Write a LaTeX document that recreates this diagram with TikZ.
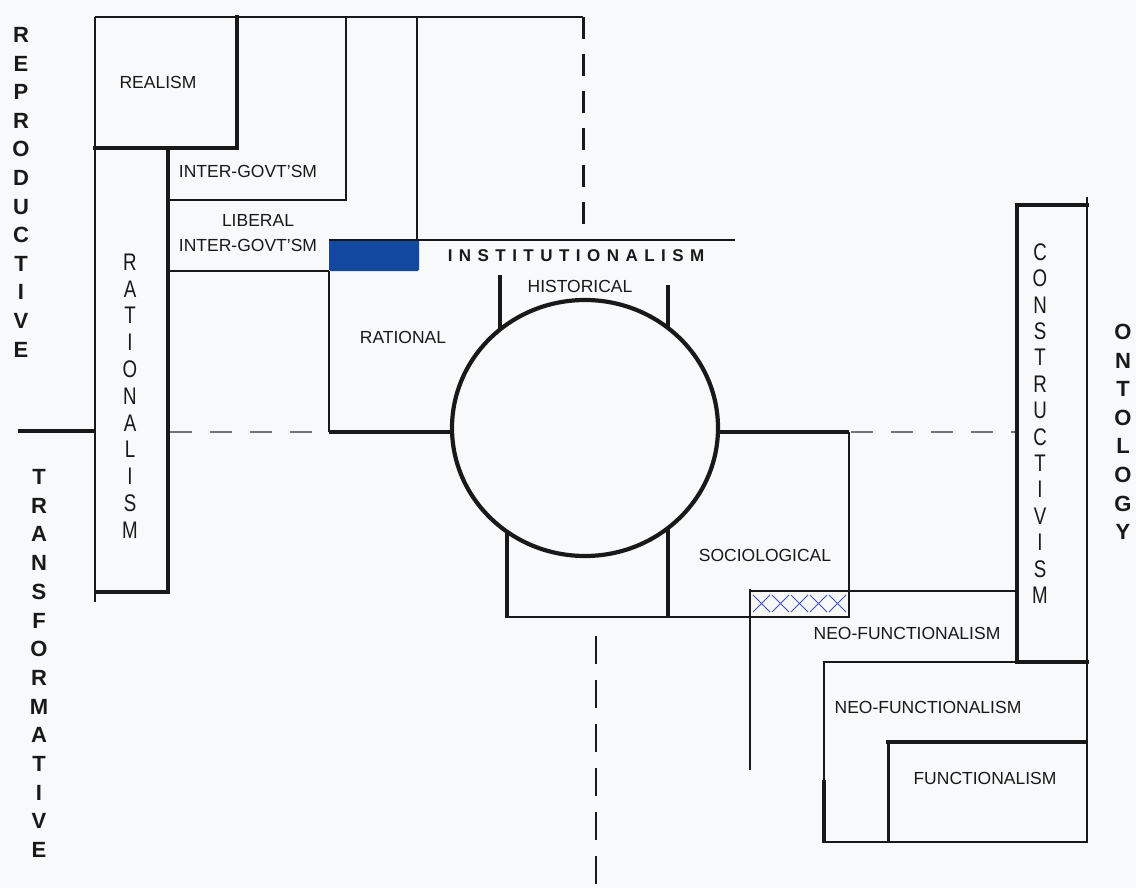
\documentclass[tikz,border=0pt]{standalone}
\usepackage{fontspec}
\setmainfont{Liberation Sans}
\definecolor{bgc}{RGB}{248,249,250}
\definecolor{blk}{RGB}{25,25,25}
\definecolor{instblue}{RGB}{18,72,160}
\definecolor{hatch}{RGB}{60,80,200}
\begin{document}
\begin{tikzpicture}[x=1pt,y=-1pt,
  ln/.style={line width=1.4pt, draw=blk},
  bln/.style={line width=3.8pt, draw=blk},
  lbl/.style={font=\fontsize{17.5}{19}\selectfont, inner sep=0pt, text=blk},
  vlet/.style={font=\fontsize{24}{26}\selectfont, inner sep=0pt, text=blk, xscale=0.78},
  blet/.style={font=\fontsize{22}{24}\selectfont\bfseries, inner sep=0pt, text=blk}]
\fill[bgc] (0,0) rectangle (1136,888);
\useasboundingbox (0,0) rectangle (1136,888);

% top-left structure
\draw[ln] (95,17) -- (583,17);
\draw[ln] (95,17) -- (95,602);
\draw[bln] (237,15) -- (237,148) -- (93,148);
\draw[bln] (168,148) -- (168,592) -- (95,592);
\draw[ln] (168,200) -- (346,200) -- (346,17);
\draw[ln] (168,271) -- (329,271);
\draw[ln] (417,17) -- (417,240);
\fill[instblue, rounded corners=1.5pt] (329,240) rectangle (419,271);
\draw[ln] (329,240) -- (735,240);
\draw[ln] (329,271) -- (329,432);
\draw[line width=3.2pt, draw=blk] (329,432) -- (452,432);

% axes
\draw[bln] (18,431) -- (95,431);
\draw[line width=1.2pt, draw=black!55, dash pattern=on 22pt off 18pt] (170,432) -- (329,432);
\draw[line width=1.2pt, draw=black!55, dash pattern=on 22pt off 18pt] (851,432) -- (1015,432);
\draw[line width=3pt, draw=blk, dash pattern=on 22pt off 15pt] (583,17) -- (583,240);
\draw[line width=2.2pt, draw=blk, dash pattern=on 28pt off 16pt] (596,636) -- (596,888);

% circle and institutionalism arms
\draw[line width=4.2pt, draw=blk] (585,428) ellipse[x radius=133, y radius=128];
\draw[bln] (500,275) -- (500,330);
\draw[bln] (668,285) -- (668,328);
\draw[bln] (507,531) -- (507,618);
\draw[bln] (668,527) -- (668,618);
\draw[ln] (507,617) -- (849,617) -- (849,432);
\draw[line width=3.2pt, draw=blk] (717,432) -- (849,432);

% cross-hatched box
\foreach \i in {0,...,4} {
  \draw[hatch, line width=1pt] (753+\i*19,595) -- (770+\i*19,612);
  \draw[hatch, line width=1pt] (770+\i*19,595) -- (753+\i*19,612);
}
\draw[ln] (750,589) -- (750,770);
\draw[ln] (750,591) -- (1017,591);

% constructivism
\draw[bln] (1089,205) -- (1017,205) -- (1017,662) -- (1089,662);
\draw[ln] (1087,197) -- (1087,843);

% neo-functionalism / functionalism
\draw[ln] (824,843) -- (824,662) -- (1017,662);
\draw[bln] (824,780) -- (824,843);
\draw[ln] (824,842) -- (1087,842);
\draw[line width=3pt, draw=blk] (888,842) -- (888,742);
\draw[bln] (886,742) -- (1087,742);

% labels
\node[lbl] (realism) at (158,82) {REALISM};
\node[lbl] (igov) at (248,171) {INTER-GOVT'SM};
\node[lbl] (lib) at (258,220) {LIBERAL};
\node[lbl] (ligov) at (248,245) {INTER-GOVT'SM};
\node[lbl] (rational) at (403,337) {RATIONAL};
\node[lbl] (historical) at (580,286) {HISTORICAL};
\node[inner sep=0pt, text=blk, font=\fontsize{17}{19}\selectfont\bfseries\addfontfeature{LetterSpace=38}] (inst) at (576,256) {INSTITUTIONALISM};
\node[lbl] (socio) at (765,555) {SOCIOLOGICAL};
\node[lbl] (neo1) at (907,633) {NEO-FUNCTIONALISM};
\node[lbl] (neo2) at (928,707) {NEO-FUNCTIONALISM};
\node[lbl] (func) at (985,778) {FUNCTIONALISM};

% vertical words
\foreach \l [count=\i] in {R,A,T,I,O,N,A,L,I,S,M}
  \node[vlet] (rat\i) at (130,{262+(\i-1)*26.8}) {\l};
\foreach \l [count=\i] in {C,O,N,S,T,R,U,C,T,I,V,I,S,M}
  \node[vlet] (con\i) at (1040,{252+(\i-1)*26.4}) {\l};
\foreach \l [count=\i] in {R,E,P,R,O,D,U,C,T,I,V,E}
  \node[blet] (rep\i) at (21,{35+(\i-1)*28.6}) {\l};
\foreach \l [count=\i] in {T,R,A,N,S,F,O,R,M,A,T,I,V,E}
  \node[blet] (tra\i) at (39,{477+(\i-1)*28.7}) {\l};
\foreach \l [count=\i] in {O,N,T,O,L,O,G,Y}
  \node[blet] (ont\i) at (1123,{332+(\i-1)*28.6}) {\l};
\end{tikzpicture}
\end{document}
